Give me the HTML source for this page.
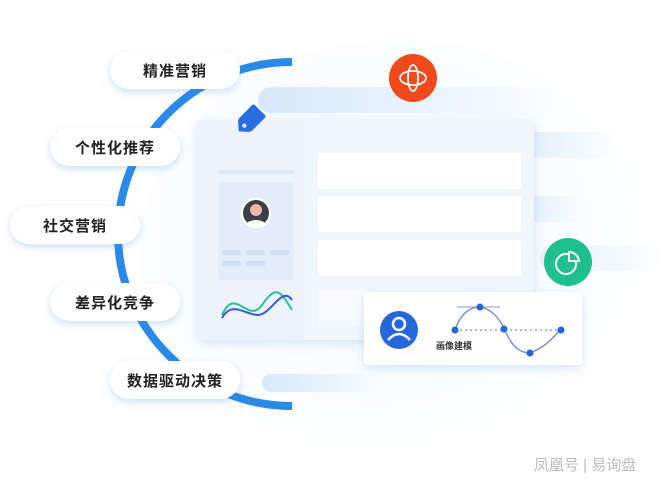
<!DOCTYPE html>
<html><head><meta charset="utf-8"><style>
html,body{margin:0;padding:0;background:#fff;}
body{width:660px;height:481px;overflow:hidden;position:relative;font-family:"Liberation Sans","Noto Sans CJK SC",sans-serif;}
.pill{position:absolute;height:38px;width:130px;border-radius:19px;background:#fff;box-shadow:0 3px 8px rgba(80,140,220,.28);font-size:15px;font-weight:bold;color:#222;display:flex;align-items:center;justify-content:center;letter-spacing:1px;}
.wm{position:absolute;left:534px;top:454px;font-size:15px;color:#bbb;}
</style></head><body>
<svg width="660" height="481" style="position:absolute;left:0;top:0">
<defs>
<linearGradient id="bar" x1="0" x2="1"><stop offset="0" stop-color="#d6e8fb"/><stop offset="1" stop-color="#fbfdff"/></linearGradient>
<radialGradient id="bg" cx=".45" cy=".45" r=".6"><stop offset="0" stop-color="#f3f7fe"/><stop offset="1" stop-color="#fff"/></radialGradient>
<filter id="sh" x="-20%" y="-20%" width="140%" height="140%"><feDropShadow dx="0" dy="3" stdDeviation="5" flood-color="#7aa8e0" flood-opacity=".3"/></filter>
</defs>
<ellipse cx="400" cy="250" rx="260" ry="210" fill="url(#bg)"/>
<path d="M292 62 A174 172 0 0 0 292 406" fill="none" stroke="#2a8ae8" stroke-width="8"/>
<rect x="258" y="87" width="300" height="26" rx="13" fill="url(#bar)"/>
<rect x="520" y="132" width="96" height="26" rx="13" fill="url(#bar)" opacity=".7"/>
<rect x="520" y="196" width="66" height="26" rx="13" fill="url(#bar)" opacity=".7"/>
<rect x="540" y="245" width="120" height="26" rx="13" fill="url(#bar)" opacity=".6"/>
<rect x="262" y="374" width="126" height="18" rx="9" fill="url(#bar)"/>
<rect x="198" y="120" width="336" height="220" rx="4" fill="#f1f6fd" filter="url(#sh)"/>
<rect x="198" y="120" width="106" height="220" fill="#edf3fb"/>
<rect x="218" y="170" width="76" height="4" fill="#dde9f7"/>
<rect x="218" y="182" width="76" height="98" fill="#e3edf9"/>
<rect x="222" y="250" width="19" height="5" fill="#cfe0f4"/><rect x="246" y="250" width="19" height="5" fill="#cfe0f4"/><rect x="270" y="250" width="19" height="5" fill="#cfe0f4"/>
<rect x="222" y="261" width="19" height="5" fill="#cfe0f4"/><rect x="246" y="261" width="19" height="5" fill="#cfe0f4"/>
<circle cx="256" cy="213" r="16" fill="#fff" stroke="#dde6f0"/>
<circle cx="256" cy="213" r="13" fill="#3b3f47"/>
<circle cx="256" cy="210" r="6" fill="#f3b7a5"/>
<path d="M245 224 Q256 216 267 224 L264 226 L248 226Z" fill="#fff"/>
<path d="M222 315 C235 285 248 325 262 305 S280 290 292 310" fill="none" stroke="#2ebc9c" stroke-width="2"/>
<path d="M222 318 C232 300 245 315 258 315 S282 285 292 300" fill="none" stroke="#3a5bd0" stroke-width="2"/>
<rect x="318" y="153" width="203" height="36" rx="2" fill="#fff"/>
<rect x="318" y="196" width="203" height="36" rx="2" fill="#fff"/>
<rect x="318" y="240" width="203" height="36" rx="2" fill="#fff"/>
<rect x="318" y="290" width="50" height="36" rx="2" fill="#f7faff"/>
<g transform="translate(250,120) rotate(-45)"><rect x="-8" y="-9" width="22" height="18" rx="2" fill="#2a6de0"/><path d="M-8 -9 L-16 0 L-8 9Z" fill="#2a6de0"/><circle cx="-8" cy="0" r="2" fill="#fff"/></g>
<rect x="364" y="292" width="218" height="73" rx="4" fill="#fff" filter="url(#sh)"/>
<circle cx="399" cy="330" r="19" fill="#2566dc"/>
<circle cx="399" cy="324" r="6" fill="none" stroke="#fff" stroke-width="2.5"/>
<path d="M388 340 Q399 328 410 340" fill="none" stroke="#fff" stroke-width="2.5"/>
<text x="436" y="349" font-size="9" font-weight="bold" fill="#333" font-family="Liberation Sans,Noto Sans CJK SC,sans-serif">画像建模</text>
<path d="M457 307 H500" stroke="#8899bb" stroke-width="1"/>
<line x1="455" y1="330" x2="561" y2="330" stroke="#4a7be0" stroke-dasharray="2 3"/>
<path d="M455 330 C465 300 490 300 504 328 C515 355 530 365 560 330" fill="none" stroke="#7f92c0" stroke-width="1.5"/>
<circle cx="455" cy="330" r="3.5" fill="#2566dc"/><circle cx="480" cy="307" r="3.5" fill="#2566dc"/><circle cx="504" cy="329" r="3.5" fill="#2566dc"/><circle cx="530" cy="353" r="3.5" fill="#2566dc"/><circle cx="561" cy="330" r="3.5" fill="#2566dc"/>
<circle cx="413" cy="78" r="24" fill="#f04a1c"/>
<ellipse cx="413" cy="78" rx="13" ry="7" fill="none" stroke="#fff" stroke-width="1.8"/>
<ellipse cx="413" cy="78" rx="5" ry="13" fill="none" stroke="#fff" stroke-width="1.8"/>
<circle cx="568" cy="262" r="24" fill="#1ec08e"/>
<circle cx="566" cy="264" r="10" fill="none" stroke="#fff" stroke-width="2"/>
<path d="M569 252 A10 10 0 0 1 579 261 L569 261Z" fill="#1ec08e" stroke="#fff" stroke-width="2"/>
</svg>
<div class="pill" style="left:110px;top:51px">精准营销</div>
<div class="pill" style="left:50px;top:128px">个性化推荐</div>
<div class="pill" style="left:10px;top:206px">社交营销</div>
<div class="pill" style="left:50px;top:283px">差异化竞争</div>
<div class="pill" style="left:110px;top:361px">数据驱动决策</div>
<div class="wm">凤凰号 | 易询盘</div>
</body></html>
